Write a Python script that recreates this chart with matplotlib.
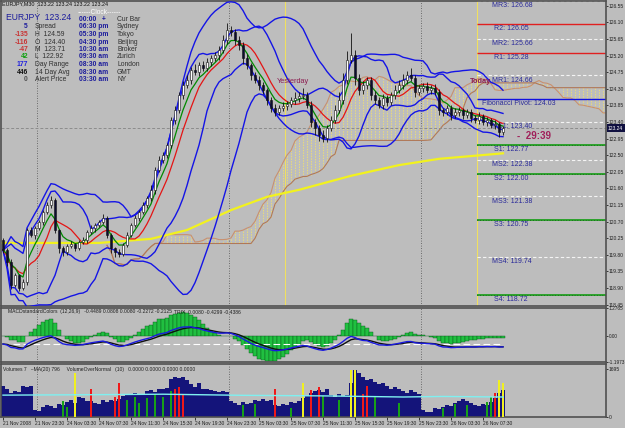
import numpy as np
import pandas as pd
import matplotlib
matplotlib.use("Agg")
import matplotlib.pyplot as plt

plt.rcParams['font.family'] = ['Liberation Sans', 'DejaVu Sans']

W, H = 625, 428
BG = '#bdbdbd'

# EURJPY M30 bars, bar 0 = 21 Nov 19:30, last bar = 26 Nov 10:00
first_open = 120.20
closes = [119.93, 119.60, 118.98, 119.25, 118.90, 119.06, 120.47, 120.34, 120.53, 120.69,
          120.96, 121.15, 121.28, 120.47, 119.98, 119.87, 120.04, 120.09, 119.98, 120.15,
          120.20, 120.42, 120.53, 120.61, 120.69, 120.80, 120.34, 119.98, 119.87, 119.82,
          120.07, 120.34, 120.61, 120.80, 120.96, 121.15, 121.34, 121.56, 122.10, 122.37,
          122.50, 122.77, 123.45, 123.72, 124.13, 124.40, 124.54, 124.81, 124.75, 124.94,
          124.86, 125.02, 125.13, 125.21, 125.35, 125.62, 125.89, 125.84, 125.62, 125.48,
          125.13, 124.94, 124.67, 124.54, 124.40, 124.27, 124.00, 123.78, 123.67, 123.78,
          123.83, 123.89, 124.00, 124.05, 124.10, 124.13, 123.86, 123.40, 123.24, 123.05,
          122.97, 123.24, 123.45, 123.72, 124.00, 124.54, 125.08, 125.21, 124.59, 124.27,
          124.40, 124.54, 124.13, 124.00, 123.86, 124.05, 123.94, 124.13, 124.27, 124.40,
          124.54, 124.67, 124.59, 124.21, 124.32, 124.37, 124.27, 124.32, 124.21, 123.72,
          123.67, 123.78, 123.59, 123.67, 123.72, 123.59, 123.67, 123.51, 123.45, 123.56,
          123.40, 123.45, 123.32, 123.35, 123.13, 123.24]
# wicks in pips above / below the body
wick_up = [6, 4, 8, 5, 3, 7, 5, 9, 4, 6, 5, 8, 12, 6, 4, 7, 5, 9, 3, 6,
           8, 5, 7, 4, 6, 10, 6, 5, 4, 8, 5, 7, 6, 9, 5, 8, 6, 12, 7, 10,
           8, 6, 9, 11, 7, 10, 12, 8, 15, 9, 10, 12, 8, 9, 11, 14, 18, 10, 9, 12,
           8, 10, 7, 9, 11, 8, 6, 9, 12, 8, 10, 7, 9, 15, 12, 20, 8, 10, 9, 7,
           12, 8, 10, 14, 22, 18, 25, 60, 15, 10, 12, 9, 8, 11, 7, 10, 9, 8, 12, 14,
           16, 10, 18, 9, 7, 10, 12, 9, 11, 8, 6, 9, 7, 10, 8, 6, 9, 7, 8, 10,
           6, 8, 7, 9, 6, 5]
wick_dn = [8, 10, 12, 6, 9, 5, 7, 6, 10, 5, 8, 6, 9, 7, 12, 10, 8, 6, 9, 5,
           7, 8, 6, 10, 5, 7, 9, 12, 14, 8, 6, 5, 7, 6, 9, 5, 8, 7, 10, 6,
           8, 9, 7, 10, 8, 12, 9, 11, 8, 10, 7, 9, 10, 8, 12, 9, 11, 10, 14, 12,
           16, 10, 12, 9, 14, 11, 15, 12, 10, 9, 8, 11, 9, 10, 12, 8, 9, 14, 20, 16,
           10, 12, 8, 9, 7, 10, 12, 9, 18, 15, 12, 10, 14, 11, 9, 12, 10, 8, 11, 9,
           10, 12, 9, 14, 8, 10, 9, 11, 8, 12, 10, 9, 13, 8, 10, 11, 9, 12, 8, 10,
           9, 11, 8, 12, 14, 9]
volumes = [1090, 1000, 850, 900, 870, 1080, 1050, 1090, 250, 200,
           350, 420, 380, 300, 450, 400, 520, 600, 480, 700,
           650, 560, 560, 500, 450, 600, 520, 580, 550, 620,
           720, 800, 760, 850, 780, 820, 900, 950, 880, 990,
           1000, 1020, 1350, 1420, 1380, 1430, 1300, 1150, 1050, 1200,
           1000, 980, 950, 900, 870, 930, 880, 560, 480, 420,
           520, 450, 500, 600, 560, 630, 550, 600, 420, 380,
           460, 400, 520, 480, 560, 650, 720, 850, 900, 950,
           880, 970, 760, 700, 800, 750, 780, 1200, 1680, 1550,
           1400, 1300, 1350, 1250, 1150, 1200, 1100, 1000, 1050, 970,
           900, 860, 940, 880, 800, 250, 180, 150, 300, 280,
           350, 400, 380, 500, 560, 620, 540, 480, 420, 380,
           460, 400, 520, 650, 850, 950]

# VolumeOverNormal overlay bars
vol_yellow_bars = [18, 75, 87, 88, 124, 125]
vol_yellow = [1550, 1200, 1650, 1680, 1300, 1200]
vol_red_bars = [22, 28, 29, 43, 44, 45, 68, 77, 79, 90, 91, 123]
vol_red = [1000, 700, 1200, 1000, 1050, 800, 1000, 950, 1050, 800, 1100, 850]
vol_green_bars = [15, 16, 31, 33, 34, 36, 38, 40, 42, 60, 63, 72, 80, 84, 93, 99, 110, 113, 116, 121, 122]
vol_green = [550, 350, 600, 700, 500, 650, 800, 700, 900, 400, 450, 300, 750, 600, 700, 500, 300, 450, 400, 520, 700]
vol_ma_bars = [0, 20, 40, 60, 80, 100, 110, 125]
vol_ma = [767, 780, 800, 760, 740, 700, 720, 700]

# long moving average (yellow)
ma_long_bars = [0, 24, 37, 46, 57, 66, 74, 87, 99, 109, 125]
ma_long = [120.12, 120.12, 120.23, 120.47, 121.01, 121.37, 121.56, 121.94, 122.23, 122.40, 122.55]

# pivot levels for today
piv_names = ["MR3", "R2", "MR2", "R1", "MR1", "Fibonacci Pivot", "MS1", "S1", "MS2", "S2", "MS3", "S3", "MS4", "S4"]
piv_values = [126.68, 126.05, 125.66, 125.28, 124.66, 124.03, 123.40, 122.77, 122.38, 122.00, 121.38, 120.75, 119.74, 118.72]

price_ticks = [126.55, 126.10, 125.65, 125.20, 124.75, 124.30, 123.85, 123.40, 122.95, 122.50,
               122.05, 121.60, 121.15, 120.70, 120.25, 119.80, 119.35, 118.90, 118.45]
macd_labels = ["1.2765", "0.00", "-1.1973"]
macd_range = [1.2765, -1.1973]
xt_bars = [0, 8, 16, 24, 32, 40, 48, 56, 64, 72, 80, 88, 96, 104, 112, 120]
xt_labels = ["21 Nov 2008", "21 Nov 23:30", "24 Nov 03:30", "24 Nov 07:30", "24 Nov 11:30",
             "24 Nov 15:30", "24 Nov 19:30", "24 Nov 23:30", "25 Nov 03:30", "25 Nov 07:30",
             "25 Nov 11:30", "25 Nov 15:30", "25 Nov 19:30", "25 Nov 23:30", "26 Nov 03:30",
             "26 Nov 07:30"]
day_sep = [8.5, 56.5, 104.5]
session_sep = [70.5, 118.5]

info_vals = ["5", "-135", "-116", "-47", "42", "177", "446", "0"]
info_names = ["Spread", "H  124.59", "O  124.40", "M  123.71", "L  122.92", "Day Range", "14 Day Avg", "Alert Price"]
info_cols = ['#1c1c9c', '#c83232', '#c83232', '#c83232', '#14a014', '#2020e0', '#101010', '#505050']
clock_times = ["00:00   +", "06:30 pm", "05:30 pm", "04:30 pm", "10:30 am", "09:30 am", "08:30 am", "08:30 am", "03:30 am"]
clock_places = ["Cur Bar", "Sydney", "Tokyo", "Beijing", "Broker", "Zurich", "London", "GMT", "NY"]


def px(xp, yp):
    return xp / W, 1 - yp / H


x = np.arange(len(closes))
c = np.array(closes)
o = np.r_[first_open, c[:-1]]
hi = np.maximum(o, c) + np.array(wick_up) / 100
lo = np.minimum(o, c) - np.array(wick_dn) / 100
s = pd.Series(c)

fig = plt.figure(figsize=(W / 100, H / 100), dpi=100, facecolor=BG)
XL = (-0.5, 150.75)


def panel(top, bottom):
    a = fig.add_axes([1 / W, 1 - bottom / H, 605 / W, (bottom - top) / H], facecolor=BG)
    a.set_xlim(*XL)
    for sp in a.spines.values():
        sp.set_color('#505050')
        sp.set_linewidth(1.2)
    a.tick_params(axis='x', length=0, labelbottom=False)
    a.yaxis.tick_right()
    a.tick_params(axis='y', length=1.5, pad=0.5, colors='#202020', width=0.6)
    return a


ax = panel(1, 306)
axm = panel(308, 362)
axv = panel(364, 417)

# ---- main price panel
ax.set_ylim(118.41, 126.68)
ax.set_yticks(price_ticks)
ax.set_yticklabels(["%.2f" % t for t in price_ticks], fontsize=3.6)

for d in day_sep:
    for a in (ax, axm, axv):
        a.axvline(d, color='#505050', lw=0.6, ls=(0, (1, 2)), zorder=1)
for d in session_sep:
    ax.axvline(d, color='#f0e060', lw=0.8, zorder=1)

# ichimoku cloud, spans shifted 26 bars ahead
hs, ls_ = pd.Series(hi), pd.Series(lo)
tenkan = (hs.rolling(9, min_periods=1).max() + ls_.rolling(9, min_periods=1).min()) / 2
kijun = (hs.rolling(26, min_periods=1).max() + ls_.rolling(26, min_periods=1).min()) / 2
span_a = ((tenkan + kijun) / 2).values
span_b = ((hs.rolling(52, min_periods=1).max() + ls_.rolling(52, min_periods=1).min()) / 2).values
xs = x + 26
ax.vlines(xs, np.minimum(span_a, span_b), np.maximum(span_a, span_b), colors='#eadc7a',
          lw=0.7, linestyles=(0, (1.5, 1.2)), zorder=2)
ax.plot(xs, span_a, color='#c89070', lw=0.8, zorder=2)
ax.plot(xs, span_b, color='#b07858', lw=0.8, zorder=2)

# pivot lines
for name, v in zip(piv_names, piv_values):
    if name.startswith("M"):
        ax.hlines(v, session_sep[1], XL[1], colors='#f4f4f4', lw=0.8, linestyles=(0, (3, 2)), zorder=2)
        lx = 122.2
    elif name.startswith("R"):
        ax.hlines(v, session_sep[1], XL[1], colors='#e02020', lw=1.0, zorder=2)
        lx = 122.7
    elif name.startswith("S"):
        ax.hlines(v, session_sep[1], XL[1], colors='#20a020', lw=1.3, zorder=2)
        ax.hlines(v, session_sep[1], XL[1], colors='#104010', lw=0.5, linestyles=(0, (1, 3)), zorder=2)
        lx = 122.7
    else:
        ax.hlines(v, session_sep[1], XL[1], colors='#1010e0', lw=1.0, zorder=2)
        lx = 119.8
    ax.text(lx, v - 0.03, "%s: %.2f" % (name, v), fontsize=5.0, color='#2a2a9a', va='top', ha='left', zorder=2)

ax.axhline(c[-1], color='#8c8c8c', lw=0.7, ls=(0, (3, 2)), zorder=2)

# moving averages and bands
ax.plot(ma_long_bars, ma_long, color='#f2f21e', lw=1.6, zorder=3)
for n, k in ((20, 2.0), (10, 1.5)):
    mid = s.rolling(n, min_periods=1).mean()
    sd = s.rolling(n, min_periods=2).std(ddof=0).fillna(0)
    ax.plot(x, mid + k * sd, color='#1414e6', lw=1.0, zorder=3)
    ax.plot(x, mid - k * sd, color='#1414e6', lw=1.0, zorder=3)
ax.plot(x, s.rolling(8, min_periods=1).mean(), color='#e41414', lw=0.9, zorder=4)
ax.plot(x, s.ewm(span=5, adjust=False).mean(), color='#008a00', lw=0.9, zorder=4)

# candles
ax.vlines(x, lo, hi, colors='#101010', lw=0.6, zorder=5)
bull = c >= o
body = np.where(np.abs(c - o) < 0.015, 0.015, c - o)
ax.bar(x, body, bottom=o, width=0.7, color=np.where(bull, '#ffffff', '#0c0c30'),
       edgecolor='#101010', lw=0.4, zorder=6)

ax.text(68.5, 124.45, "Yesterday", fontsize=5.3, color='#8c1c50', zorder=7)
ax.text(116.7, 124.45, "Today", fontsize=5.3, color='#8c1c50', fontweight='bold', zorder=7)
ax.text(128.5, 123.03, "-  29:39", fontsize=7, color='#a0205a', fontweight='bold', va='center', zorder=7)

bx, by = px(608, 128)
fig.text(bx, by, "%.2f" % c[-1], fontsize=3.6, color='white', va='center', ha='left',
         bbox=dict(boxstyle='square,pad=0.25', fc='#101040', ec='none'), zorder=10)

# header / info block
fig.text(*px(2, 4), "EURJPY,M30  123.22 123.24 123.22 123.24", fontsize=3.9, color='#101010', va='center')
fig.text(*px(6, 17), "EURJPY  123.24", fontsize=6.2, color='#1c1c9c', va='center')
fig.text(*px(99, 12), "------Clock------", fontsize=4.8, color='white', va='center', ha='center')
rows = [19.5, 27, 34.5, 42, 49.5, 57, 64.5, 72, 79.5]
for i, (t, p) in enumerate(zip(clock_times, clock_places)):
    fig.text(*px(79, rows[i]), t, fontsize=4.9, color='#1c1c9c', va='center', fontweight='bold')
    fig.text(*px(117, rows[i]), p, fontsize=4.9, color='#303030', va='center')
for i, (v, n, col) in enumerate(zip(info_vals, info_names, info_cols)):
    fig.text(*px(28, rows[i + 1]), v, fontsize=4.9, color=col, va='center', ha='right', fontweight='bold')
    fig.text(*px(35, rows[i + 1]), n, fontsize=4.9, color='#303030', va='center')

# ---- MACD panel: OsMA histogram (MACD - signal), fast MACD lines on their own scale
ema12 = s.ewm(span=12, adjust=False).mean()
ema26 = s.ewm(span=26, adjust=False).mean()
macd = ema12 - ema26
osma = (macd - macd.rolling(9, min_periods=1).mean()).values
kscale = max(osma.max() / macd_range[0], osma.min() / macd_range[1]) * 1.02
axm.set_ylim(macd_range[1] * kscale, macd_range[0] * kscale)
axm.bar(x, osma, width=0.8, color='#20c040', edgecolor='#0a5a1a', lw=0.3, zorder=2)

fast = s.ewm(span=5, adjust=False).mean() - s.ewm(span=13, adjust=False).mean()
fast_sig = fast.ewm(span=4, adjust=False).mean()
ax2 = axm.twinx()
m = np.abs(fast.values).max() * 1.05
ax2.set_ylim(-m, 2.0 * m)
ax2.set_xlim(*XL)
ax2.axis('off')
ax2.plot(x, np.zeros(len(x)), color='white', lw=0.8, ls=(0, (6, 3)), zorder=3)
ax2.plot(x, fast_sig, color='#101010', lw=1.0, zorder=4)
ax2.plot(x, fast, color='#1a1ae0', lw=1.0, zorder=5)

# twinx moved the ticks to the left; put them back on the right
axm.yaxis.tick_right()
axm.set_yticks([macd_range[0] * kscale, 0.0, macd_range[1] * kscale])
axm.set_yticklabels(macd_labels, fontsize=3.4)
axm.tick_params(axis='y', length=1.5, pad=0.5, colors='#202020', width=0.6)

fig.text(*px(8, 312), "MACDstandardColors  (12,26,9)   -0.4489 0.0808 0.0080 -0.2272 -0.2125",
         fontsize=3.6, color='#202020', va='center')
fig.text(*px(174, 312), "TRIX  0.0080 -0.4299 -0.4386", fontsize=3.6, color='#202020', va='center')

# ---- volume panel
axv.set_ylim(-15, 1880)
axv.bar(x, volumes, width=0.85, color='#14147a', zorder=2)
axv.bar(vol_green_bars, vol_green, width=0.45, color='#18a018', zorder=3)
axv.bar(vol_red_bars, vol_red, width=0.45, color='#f01818', zorder=3)
axv.bar(vol_yellow_bars, vol_yellow, width=0.45, color='#f0f020', zorder=3)
axv.plot(vol_ma_bars, vol_ma, color='#7ff0f0', lw=1.0, zorder=4)
axv.set_yticks([1695, 0])
axv.set_yticklabels(["1695", "0"], fontsize=3.6)
axv.set_xticks(xt_bars)
axv.set_xticklabels(xt_labels, ha='left', fontsize=3.5)
axv.tick_params(axis='x', labelbottom=True, length=2, pad=1, colors='#202020', width=0.6)
fig.text(*px(3, 369), "Volumes 7   ~MA(20) 796     VolumeOverNormal   (10)   0.0000 0.0000 0.0000 0.0000",
         fontsize=3.6, color='#202020', va='center')

fig.savefig("out.png", dpi=100, facecolor=BG)
